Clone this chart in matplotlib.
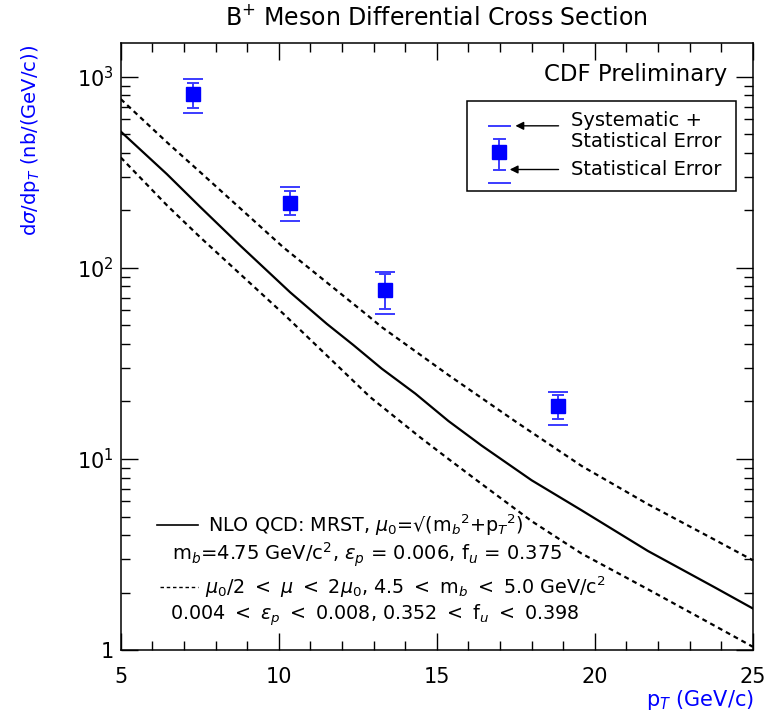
import matplotlib.pyplot as plt
from matplotlib.patches import Rectangle

plt.rcParams.update({
    "font.family": ["DejaVu Sans"],
    "mathtext.fontset": "dejavusans",
})

# measured B+ points
pt = [7.3, 10.34, 13.35, 18.85]
xsec = [813, 220, 76.8, 18.9]
stat_hi = [935, 254, 92.7, 21.6]
stat_lo = [684, 190, 61, 16.2]
sys_hi = [973, 264, 95, 22.4]
sys_lo = [651, 176, 57.5, 15.1]

# NLO QCD central curve
nlo_pt = [5, 6.46, 7.51, 8.78, 10.36, 11.52, 12.36, 13.26, 14.32, 15.37, 16.42,
          18.0, 19.58, 21.68, 23.79, 25]
nlo = [518, 310, 209, 131, 74.6, 51, 39.5, 29.7, 22.0, 15.8, 11.75,
       7.74, 5.39, 3.3, 2.13, 1.65]

# upper / lower uncertainty band
up_pt = [5, 6.5, 7.5, 10.15, 12.78, 13.26, 15.37, 17.47, 19.58, 21.68, 23.79, 25]
up = [766, 449, 319, 128, 57, 49, 27.5, 15.8, 9.2, 5.8, 3.78, 2.95]
lo_pt = [5, 6.46, 7.51, 10.15, 12.89, 14.47, 15.37, 16.42, 18.0, 19.58,
         21.68, 23.79, 25]
lo = [379, 213, 145, 57.5, 21.1, 13.0, 10.0, 7.4, 4.73, 3.2,
      2.08, 1.34, 1.04]

blue = "#0000ff"
ebar = "#3b3bff"

fig = plt.figure(figsize=(7.69, 7.17), dpi=100)
ax = fig.add_axes([0.157, 0.0934, 0.822, 0.8462])

ax.plot(nlo_pt, nlo, color="black", lw=1.6)
ax.plot(up_pt, up, color="black", lw=1.6, linestyle=(0, (2.2, 1.8)))
ax.plot(lo_pt, lo, color="black", lw=1.6, linestyle=(0, (2.2, 1.8)))

# systematic+statistical (wide caps) and statistical (narrow caps)
sys_err = [[c - l for c, l in zip(xsec, sys_lo)], [h - c for c, h in zip(xsec, sys_hi)]]
stat_err = [[c - l for c, l in zip(xsec, stat_lo)], [h - c for c, h in zip(xsec, stat_hi)]]
ax.errorbar(pt, xsec, yerr=sys_err, fmt="none", ecolor=ebar, elinewidth=0,
            capsize=7, capthick=1.4)
ax.errorbar(pt, xsec, yerr=stat_err, fmt="s", color=blue, ecolor=ebar,
            elinewidth=1.4, capsize=4, capthick=1.4, markersize=10, mec=blue)

ax.set_yscale("log")
ax.set_xlim(5, 25)
ax.set_ylim(1, 1500)
ax.set_xticks([5, 10, 15, 20, 25])
ax.set_xticks(range(5, 26), minor=True)
ax.set_yticks([1, 10, 100, 1000])
ax.set_yticklabels(["1", "$10^{1}$", "$10^{2}$", "$10^{3}$"])
ax.tick_params(which="both", direction="in", top=True, right=True, width=1.0)
ax.tick_params(which="major", length=12)
ax.tick_params(which="minor", length=6.5)
ax.tick_params(axis="x", which="major", labelsize=15, pad=12)
ax.tick_params(axis="y", which="major", labelsize=15, pad=5)
ax.tick_params(axis="y", which="minor", labelleft=False)
for s in ax.spines.values():
    s.set_linewidth(1.1)

fig.text(0.568, 0.975, "B$^{+}$ Meson Differential Cross Section", ha="center",
         va="center", fontsize=17)
fig.text(0.040, 0.937, r"d$\sigma$/dp$_{T}$ (nb/(GeV/c))", color=blue,
         rotation=90, ha="center", va="top", fontsize=14)
fig.text(0.981, 0.024, "p$_{T}$ (GeV/c)", color=blue, ha="right", va="center",
         fontsize=15)

ax.text(0.960, 0.948, "CDF Preliminary", transform=ax.transAxes, ha="right",
        va="center", fontsize=16.5)

# legend box
ax.add_patch(Rectangle((0.548, 0.757), 0.425, 0.148, transform=ax.transAxes,
                       fill=False, lw=1.1, ec="black"))
lx, ly = 0.599, 0.821
ax.plot([0.582, 0.616], [0.864, 0.864], color=ebar, lw=1.4, transform=ax.transAxes)
ax.plot([0.582, 0.616], [0.770, 0.770], color=ebar, lw=1.4, transform=ax.transAxes)
ax.plot([lx, lx], [0.792, 0.842], color=ebar, lw=1.4, transform=ax.transAxes)
ax.plot([0.590, 0.608], [0.842, 0.842], color=ebar, lw=1.4, transform=ax.transAxes)
ax.plot([0.590, 0.608], [0.792, 0.792], color=ebar, lw=1.4, transform=ax.transAxes)
ax.plot([lx], [ly], "s", color=blue, markersize=10, transform=ax.transAxes)
for yy, xh in [(0.864, 0.620), (0.792, 0.611)]:
    ax.annotate("", xy=(xh, yy), xytext=(0.697, yy), xycoords="axes fraction",
                arrowprops=dict(arrowstyle="-|>", color="black", lw=1.0,
                                mutation_scale=12))
ax.text(0.713, 0.8725, "Systematic +", transform=ax.transAxes, va="center", fontsize=14)
ax.text(0.713, 0.838, "Statistical Error", transform=ax.transAxes, va="center", fontsize=14)
ax.text(0.713, 0.792, "Statistical Error", transform=ax.transAxes, va="center", fontsize=14)

# theory description
ax.plot([0.057, 0.122], [0.206, 0.206], color="black", lw=1.2, transform=ax.transAxes)
ax.text(0.138, 0.206, "NLO QCD: MRST, $\\mu_0$=√(m$_b$$^2$+p$_T$$^2$)",
        transform=ax.transAxes, va="center", fontsize=13.8)
ax.text(0.081, 0.1566, r"m$_b$=4.75 GeV/c$^2$, $\varepsilon_p$ = 0.006, f$_u$ = 0.375",
        transform=ax.transAxes, va="center", fontsize=14)
ax.plot([0.062, 0.122], [0.104, 0.104], color="black", lw=1.0,
        linestyle=(0, (2.5, 2)), transform=ax.transAxes)
ax.text(0.133, 0.104,
        r"$\mu_0$/2 $<$ $\mu$ $<$ 2$\mu_0$, 4.5 $<$ m$_b$ $<$ 5.0 GeV/c$^2$",
        transform=ax.transAxes, va="center", fontsize=13.8)
ax.text(0.078, 0.0577, r"0.004 $<$ $\varepsilon_p$ $<$ 0.008, 0.352 $<$ f$_u$ $<$ 0.398",
        transform=ax.transAxes, va="center", fontsize=13.8)

fig.savefig("out.png", dpi=100)
